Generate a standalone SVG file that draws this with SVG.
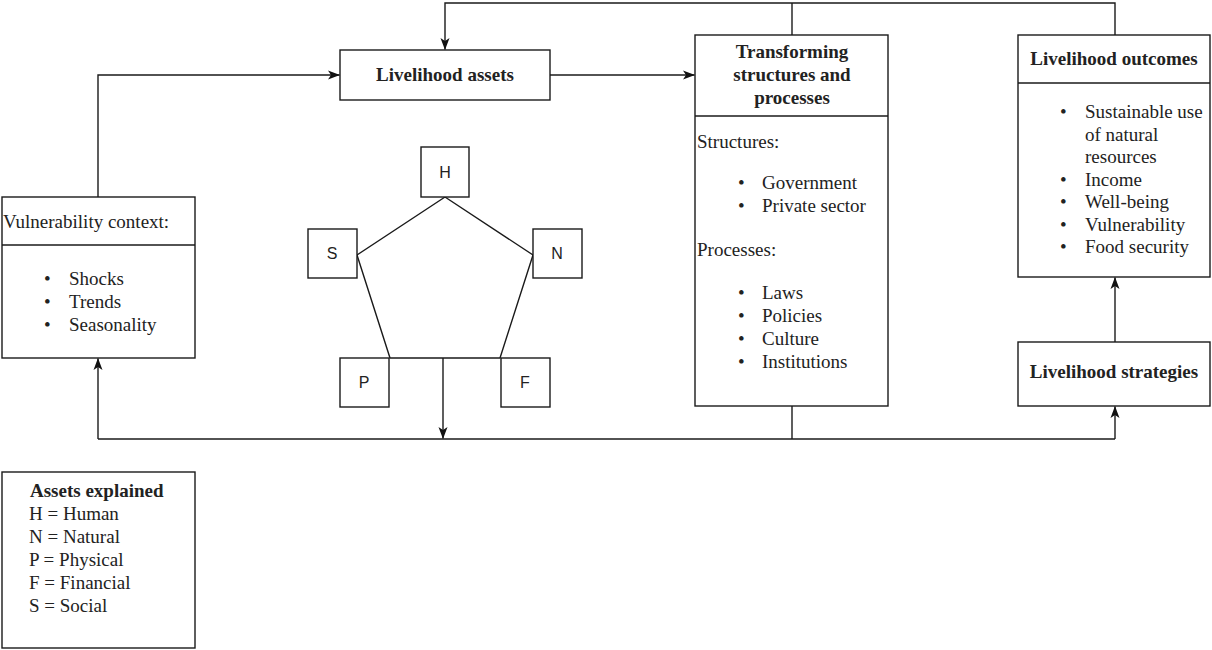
<svg xmlns="http://www.w3.org/2000/svg" width="1212" height="650" viewBox="0 0 1212 650">
<style>
.box{fill:#fff;stroke:#1a1a1a;stroke-width:1.4}
.ln{fill:none;stroke:#1a1a1a;stroke-width:1.4}
.t{font-family:'Liberation Serif','Times New Roman',Times,'DejaVu Serif',serif;font-size:19px;fill:#222}
.b{font-weight:bold}
.s{font-family:'Liberation Sans',Arial,sans-serif;font-size:16px;fill:#222}
.mid{text-anchor:middle}
</style>
<defs>
<marker id="ah" viewBox="0 0 12 10" refX="11.5" refY="5" markerWidth="12" markerHeight="10" markerUnits="userSpaceOnUse" orient="auto">
<path d="M0,0.5 L12,5 L0,9.5 L3,5 Z" fill="#111"/>
</marker>
</defs>
<rect width="1212" height="650" fill="#fff"/>
<g id="connectors">
<path class="ln" d="M792,35 V3"/>
<path class="ln" d="M1115,35 V3 H445 V49.5" marker-end="url(#ah)"/>
<path class="ln" d="M98,197 V75 H339.5" marker-end="url(#ah)"/>
<path class="ln" d="M550,75 H694.5" marker-end="url(#ah)"/>
<path class="ln" d="M98,439 H1115"/>
<path class="ln" d="M792,406 V439"/>
<path class="ln" d="M98,439 V358.5" marker-end="url(#ah)"/>
<path class="ln" d="M1115,439 V406.5" marker-end="url(#ah)"/>
<path class="ln" d="M1115,342 V277.5" marker-end="url(#ah)"/>
<path class="ln" d="M443,358 V438.5" marker-end="url(#ah)"/>
<path class="ln" d="M445,197 L357,255 L390,358 H500 L533,255 Z"/>
</g>
<g id="livelihood-assets" font-family="Liberation Serif, serif">
<rect class="box" x="340" y="50" width="210" height="50"/>
<text class="t b mid" x="445" y="81">Livelihood assets</text>
</g>
<g id="vulnerability-context" font-family="Liberation Serif, serif">
<rect class="box" x="2" y="197" width="193" height="161"/>
<line class="ln" x1="2" y1="245" x2="195" y2="245"/>
<text class="t" x="3" y="228">Vulnerability context:</text>
<text class="t" x="44" y="285">•</text><text class="t" x="69" y="285">Shocks</text>
<text class="t" x="44" y="308">•</text><text class="t" x="69" y="308">Trends</text>
<text class="t" x="44" y="331">•</text><text class="t" x="69" y="331">Seasonality</text>
</g>
<g id="asset-H">
<rect class="box" x="421" y="147" width="48" height="50"/>
<text class="s mid" x="445" y="178">H</text>
</g>
<g id="asset-S">
<rect class="box" x="308" y="229" width="49" height="49"/>
<text class="s mid" x="332" y="259">S</text>
</g>
<g id="asset-N">
<rect class="box" x="533" y="229" width="49" height="49"/>
<text class="s mid" x="557" y="259">N</text>
</g>
<g id="asset-P">
<rect class="box" x="340" y="358" width="49" height="49"/>
<text class="s mid" x="364" y="388">P</text>
</g>
<g id="asset-F">
<rect class="box" x="501" y="358" width="49" height="49"/>
<text class="s mid" x="525" y="388">F</text>
</g>
<g id="transforming-structures" font-family="Liberation Serif, serif">
<rect class="box" x="695" y="35" width="193" height="371"/>
<line class="ln" x1="695" y1="116" x2="888" y2="116"/>
<text class="t b mid" x="792" y="58">Transforming</text>
<text class="t b mid" x="792" y="81">structures and</text>
<text class="t b mid" x="792" y="104">processes</text>
<text class="t" x="697" y="148">Structures:</text>
<text class="t" x="738" y="189">•</text><text class="t" x="762" y="189">Government</text>
<text class="t" x="738" y="212">•</text><text class="t" x="762" y="212">Private sector</text>
<text class="t" x="697" y="256">Processes:</text>
<text class="t" x="738" y="299">•</text><text class="t" x="762" y="299">Laws</text>
<text class="t" x="738" y="322">•</text><text class="t" x="762" y="322">Policies</text>
<text class="t" x="738" y="345">•</text><text class="t" x="762" y="345">Culture</text>
<text class="t" x="738" y="368">•</text><text class="t" x="762" y="368">Institutions</text>
</g>
<g id="livelihood-outcomes" font-family="Liberation Serif, serif">
<rect class="box" x="1018" y="35" width="192" height="242"/>
<line class="ln" x1="1018" y1="83" x2="1210" y2="83"/>
<text class="t b mid" x="1114" y="65">Livelihood outcomes</text>
<text class="t" x="1060" y="118">•</text><text class="t" x="1085" y="118">Sustainable use</text>
<text class="t" x="1085" y="140.5">of natural</text>
<text class="t" x="1085" y="163">resources</text>
<text class="t" x="1060" y="185.5">•</text><text class="t" x="1085" y="185.5">Income</text>
<text class="t" x="1060" y="208">•</text><text class="t" x="1085" y="208">Well-being</text>
<text class="t" x="1060" y="230.5">•</text><text class="t" x="1085" y="230.5">Vulnerability</text>
<text class="t" x="1060" y="253">•</text><text class="t" x="1085" y="253">Food security</text>
</g>
<g id="livelihood-strategies" font-family="Liberation Serif, serif">
<rect class="box" x="1018" y="342" width="192" height="64"/>
<text class="t b mid" x="1114" y="378">Livelihood strategies</text>
</g>
<g id="assets-explained" font-family="Liberation Serif, serif">
<rect class="box" x="2" y="472" width="193" height="176"/>
<text class="t b" x="30" y="497">Assets explained</text>
<text class="t" x="29" y="520">H = Human</text>
<text class="t" x="29" y="543">N = Natural</text>
<text class="t" x="29" y="566">P = Physical</text>
<text class="t" x="29" y="589">F = Financial</text>
<text class="t" x="29" y="612">S = Social</text>
</g>
</svg>
